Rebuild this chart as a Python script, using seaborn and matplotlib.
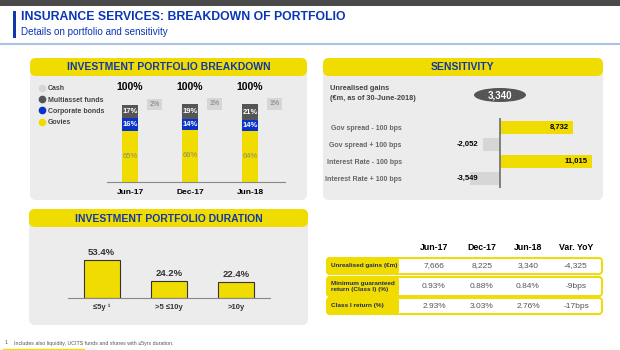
import seaborn as sns
import matplotlib.pyplot as plt
from matplotlib.patches import FancyBboxPatch, Ellipse, Rectangle
from matplotlib.lines import Line2D

# --- data -------------------------------------------------------------
periods = ["Jun-17", "Dec-17", "Jun-18"]
govies = [65, 66, 64]
corporate = [16, 14, 14]
multiasset = [17, 19, 21]
cash = [2, 1, 1]
totals = [100, 100, 100]
legend_labels = ["Cash", "Multiasset funds", "Corporate bonds", "Govies"]

sens_labels = ["Gov spread - 100 bps", "Gov spread + 100 bps",
               "Interest Rate - 100 bps", "Interest Rate + 100 bps"]
sens_values = [8732, -2052, 11015, -3549]
unrealised_gains = "3,340"

duration_labels = ["≤5y ¹", ">5 ≤10y", ">10y"]
duration_values = [53.4, 24.2, 22.4]

table_cols = ["Jun-17", "Dec-17", "Jun-18", "Var. YoY"]
table_rows = ["Unrealised gains (€m)", "Minimum guaranteed\nreturn (Class I) (%)", "Class I return (%)"]
row_gains = ["7,666", "8,225", "3,340", "-4,325"]
row_min_return = ["0.93%", "0.88%", "0.84%", "-9bps"]
row_class_return = ["2.93%", "3.03%", "2.76%", "-17bps"]
table_values = [row_gains, row_min_return, row_class_return]

# --- style ------------------------------------------------------------
YELLOW = "#f0dc00"
PANEL = "#ececec"
BLUE = "#1238a8"
DARK = "#555555"
LIGHT = "#d6d6d6"
CORP = "#0a34c8"

sns.set_style("white")
plt.rcParams['font.family'] = ['Liberation Sans', 'DejaVu Sans']

W, H = 620, 350
fig = plt.figure(figsize=(6.2, 3.5), dpi=100)

# background axes in pixel units
bg = fig.add_axes([0, 0, 1, 1])
bg.set_xlim(0, W)
bg.set_ylim(H, 0)
bg.axis('off')


def px_axes(x0, y0, x1, y1):
    ax = fig.add_axes([x0 / W, 1 - y1 / H, (x1 - x0) / W, (y1 - y0) / H])
    ax.set_facecolor('none')
    return ax


def panel(x0, y0, x1, y1, title):
    bg.add_patch(FancyBboxPatch((x0, y0), x1 - x0, y1 - y0,
                                boxstyle="round,pad=0,rounding_size=6", fc=PANEL, ec='none'))
    bg.add_patch(FancyBboxPatch((x0, y0), x1 - x0, 18,
                                boxstyle="round,pad=0,rounding_size=6", fc=YELLOW, ec='none'))
    bg.text((x0 + x1) / 2, y0 + 9.5, title, ha='center', va='center', color=BLUE,
            fontsize=7.5, fontweight='bold')


# header
bg.add_patch(Rectangle((0, 0), W, 5.5, fc="#4a4a4a", ec='none'))
bg.add_patch(Rectangle((13, 11), 2.5, 27, fc="#1238a8", ec='none'))
bg.text(21, 17, "INSURANCE SERVICES: BREAKDOWN OF PORTFOLIO", ha='left', va='center',
        color="#0a35b5", fontsize=8.8, fontweight='bold')
bg.text(21, 32, "Details on portfolio and sensitivity", ha='left', va='center',
        color="#0a35b5", fontsize=7.1)
bg.plot([0, W], [43.5, 43.5], color="#a9c2e6", lw=1.5)

panel(30, 58, 307, 200, "INVESTMENT PORTFOLIO BREAKDOWN")
panel(323, 58, 603, 200, "SENSITIVITY")
panel(29, 209, 308, 325, "INVESTMENT PORTFOLIO DURATION")

# --- portfolio breakdown ---------------------------------------------
ax = px_axes(107, 85, 285, 182)
cum1 = govies
cum2 = [g + c for g, c in zip(govies, corporate)]
cum3 = [g + c + m for g, c, m in zip(govies, corporate, multiasset)]
for vals, col in [(cum3, DARK), (cum2, CORP), (cum1, YELLOW)]:
    sns.barplot(x=periods, y=vals, color=col, saturation=1, width=0.28, linewidth=0, ax=ax)
ax.set_xlim(-0.383, 2.583)
ax.set_ylim(0, 122.8)
for i in range(len(periods)):
    ax.text(i, govies[i] / 2, f"{govies[i]}%", ha='center', va='center', fontsize=5.5, color="#8a8a6a")
    ax.text(i, govies[i] + corporate[i] / 2, f"{corporate[i]}%", ha='center', va='center',
            fontsize=5.5, color='white', fontweight='bold')
    ax.text(i, cum2[i] + multiasset[i] / 2, f"{multiasset[i]}%", ha='center', va='center',
            fontsize=5.5, color='white', fontweight='bold')
    ax.text(i + 0.41, cum3[i], f"{cash[i]}%", ha='center', va='center', fontsize=5, color="#777",
            bbox=dict(fc=LIGHT, ec='none', pad=1.6))
    ax.annotate(f"{totals[i]}%", (i, totals[i]), xytext=(0, 8), textcoords='offset points',
                ha='center', va='bottom', fontsize=7.5, fontweight='bold', color='black')
sns.despine(ax=ax, left=True)
ax.spines['bottom'].set_color('#888888')
ax.set_yticks([])
ax.set_xlabel('')
ax.set_ylabel('')
ax.tick_params(axis='x', length=0, pad=5, labelsize=6, labelcolor='black')
for t in ax.get_xticklabels():
    t.set_fontweight('bold')

handles = [Line2D([], [], marker='o', ls='', color=c, markersize=4.5, label=l)
           for c, l in zip([LIGHT, DARK, CORP, YELLOW], legend_labels)]
leg = fig.legend(handles=handles, loc='upper left', bbox_to_anchor=(36 / W, 1 - 82 / H),
                 frameon=False, prop={'size': 5.0, 'weight': 'bold'}, labelcolor='#444',
                 handlelength=0.8, handletextpad=0.4, labelspacing=0.6, borderpad=0)

# --- sensitivity ------------------------------------------------------
bg.text(330, 89, "Unrealised gains", ha='left', va='center', fontsize=5.3, fontweight='bold', color='#444')
bg.text(330, 99, "(€m, as of 30-June-2018)", ha='left', va='center', fontsize=5.3,
        fontweight='bold', color='#444')
bg.add_patch(Ellipse((500, 95), 52, 14, fc=DARK, ec='none'))
bg.text(500, 95.5, unrealised_gains, ha='center', va='center', fontsize=7, fontweight='bold', color='white')

ax2 = px_axes(410, 118, 600, 188)
sens_colors = [YELLOW if v > 0 else LIGHT for v in sens_values]
sns.barplot(x=sens_values, y=sens_labels, hue=sens_labels, palette=sens_colors, legend=False,
            orient='h', width=0.76, saturation=1, linewidth=0, ax=ax2)
ax2.set_xlim(-10800, 12000)
ax2.set_ylim(3.56, -0.56)
ax2.axvline(0, color='#777777', lw=1.3)
for i, v in enumerate(sens_values):
    if v > 0:
        ax2.annotate(f"{v:,}", (v, i), xytext=(-3, 0), textcoords='offset points',
                     ha='right', va='center', fontsize=5.5, fontweight='bold', color='black')
    else:
        ax2.text(1.1 * min(sens_values), i, f"{v:,}", ha='center', va='center',
                 fontsize=5.5, fontweight='bold', color='black')
sns.despine(ax=ax2, left=True, bottom=True)
ax2.set_xticks([])
ax2.set_xlabel('')
ax2.set_ylabel('')
ax2.tick_params(axis='y', length=0, pad=6, labelsize=5.0, labelcolor='#666')
for t in ax2.get_yticklabels():
    t.set_fontweight('bold')

# --- duration ---------------------------------------------------------
ax3 = px_axes(68, 240, 270, 298)
sns.barplot(x=duration_labels, y=duration_values, color=YELLOW, saturation=1, width=0.535,
            edgecolor='#333333', linewidth=0.8, ax=ax3)
ax3.set_xlim(-0.5, 2.5)
ax3.set_ylim(0, 80.5)
for i, v in enumerate(duration_values):
    ax3.annotate(f"{v:.1f}%", (i, v), xytext=(0, 2), textcoords='offset points',
                 ha='center', va='bottom', fontsize=6.8, fontweight='bold', color='#333')
sns.despine(ax=ax3, left=True)
ax3.spines['bottom'].set_color('#888888')
ax3.set_yticks([])
ax3.set_xlabel('')
ax3.set_ylabel('')
ax3.tick_params(axis='x', length=0, pad=4, labelsize=5.5, labelcolor='#333')
for t in ax3.get_xticklabels():
    t.set_fontweight('bold')

# --- table ------------------------------------------------------------
col_x = [434, 482, 528, 576]
row_y = [(258, 274), (277, 296), (298, 314)]
for x, c in zip(col_x, table_cols):
    bg.text(x, 248, c, ha='center', va='center', fontsize=6.3, fontweight='bold', color='black')
for (y0, y1), lab, vals in zip(row_y, table_rows, table_values):
    bg.add_patch(FancyBboxPatch((327, y0), 275, y1 - y0, boxstyle="round,pad=0,rounding_size=3",
                                fc='white', ec=YELLOW, lw=1.4))
    bg.add_patch(FancyBboxPatch((327, y0), 71, y1 - y0, boxstyle="round,pad=0,rounding_size=3",
                                fc=YELLOW, ec=YELLOW, lw=1.4))
    bg.text(331, (y0 + y1) / 2, lab, ha='left', va='center', fontsize=4.6, fontweight='bold',
            color='#1f2d5c', linespacing=1.1)
    for x, v in zip(col_x, vals):
        bg.text(x, (y0 + y1) / 2, v, ha='center', va='center', fontsize=6, color='#555')

# footnote
bg.text(5, 343, "1.", ha='left', va='center', fontsize=3.8, color='#555')
bg.text(14, 343, "Includes also liquidity, UCITS funds and shares with ≤5yrs duration.",
        ha='left', va='center', fontsize=3.8, color='#555')
bg.plot([3, 84], [349, 349], color=YELLOW, lw=1)

fig.savefig("out.png", dpi=100)
